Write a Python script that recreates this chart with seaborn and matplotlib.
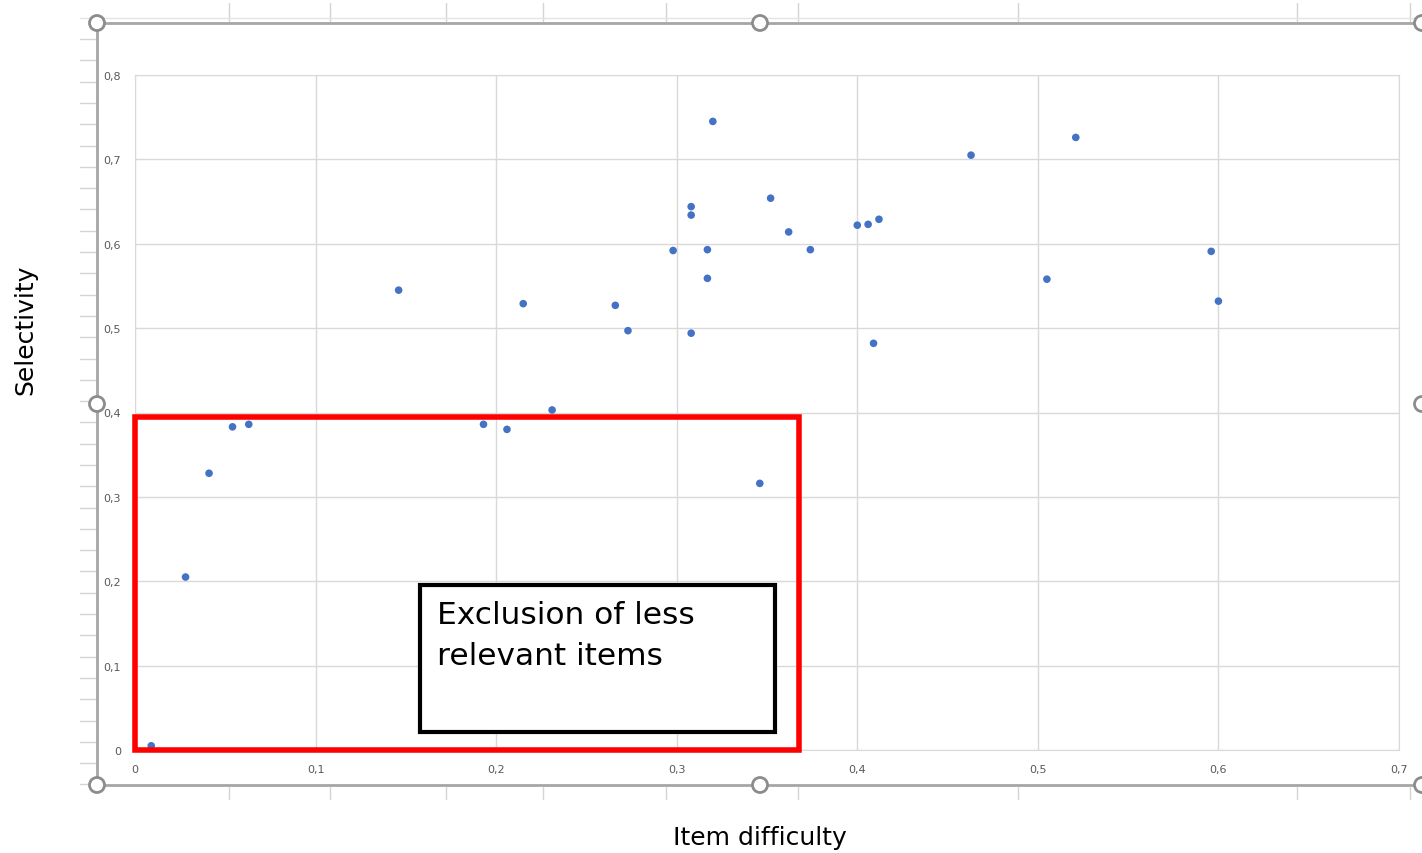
import numpy as np
import pandas as pd
import seaborn as sns
import matplotlib.pyplot as plt
from matplotlib.patches import Rectangle, Circle
from matplotlib.ticker import FuncFormatter

# Data
difficulty = [0.009, 0.028, 0.041, 0.054, 0.063, 0.146, 0.193, 0.206, 0.215, 0.231,
              0.266, 0.273, 0.298, 0.308, 0.308, 0.308, 0.317, 0.317, 0.320, 0.346,
              0.352, 0.362, 0.374, 0.400, 0.406, 0.412, 0.409, 0.463, 0.505, 0.521,
              0.596, 0.600]
selectivity = [0.005, 0.205, 0.328, 0.383, 0.386, 0.545, 0.386, 0.380, 0.529, 0.403,
               0.527, 0.497, 0.592, 0.644, 0.634, 0.494, 0.593, 0.559, 0.745, 0.316,
               0.654, 0.614, 0.593, 0.622, 0.623, 0.629, 0.482, 0.705, 0.558, 0.726,
               0.591, 0.532]
x_ticks = [0, 0.1, 0.2, 0.3, 0.4, 0.5, 0.6, 0.7]
y_ticks = [0, 0.1, 0.2, 0.3, 0.4, 0.5, 0.6, 0.7, 0.8]

# Highlighted region and annotation box (data units)
excl_region = (0.0, 0.0, 0.3677, 0.3947)
note_box = (0.158, 0.021, 0.3544, 0.1956)
note_text = "Exclusion of less\nrelevant items"

df = pd.DataFrame({"difficulty": difficulty, "selectivity": selectivity})

sns.set_style("white")
W, H = 1422, 854
fig = plt.figure(figsize=(W / 100, H / 100), dpi=100)

# ------------------------------
# Frame decoration (pixel coordinates)
# ------------------------------
deco = fig.add_axes([0, 0, 1, 1], zorder=0)
deco.set_xlim(0, W)
deco.set_ylim(H, 0)
deco.axis("off")
grey = "#d4d4d4"
for y in np.arange(40, 790, 21.3):
    deco.plot([80, 97], [y, y], color=grey, lw=1)
for x in [229, 330, 446, 543, 666, 798, 1018, 1297, 1410]:
    deco.plot([x, x], [4, 22], color=grey, lw=1)
    deco.plot([x, x], [788, 800], color=grey, lw=1)
deco.plot([80, W], [19, 19], color="#e4e4e4", lw=1)
deco.plot([97, W], [24, 24], color="#a6a6a6", lw=2)
deco.plot([97, W], [786, 786], color="#a6a6a6", lw=2)
deco.plot([97, 97], [24, 786], color="#a6a6a6", lw=2)
for cx, cy in [(97, 24), (760, 24), (1422, 24), (97, 405), (1422, 405),
               (97, 786), (760, 786), (1422, 786)]:
    deco.add_patch(Circle((cx, cy), 7.5, facecolor="white", edgecolor="#8c8c8c",
                          lw=2, zorder=5, clip_on=False))

# ------------------------------
# Scatter plot
# ------------------------------
ax = fig.add_axes([135 / W, 1 - 751 / H, (1399 - 135) / W, (751 - 76) / H], zorder=1)
sns.scatterplot(data=df, x="difficulty", y="selectivity", ax=ax,
                color="#4472C4", s=30, edgecolor="none", zorder=3)

ax.set_xlim(0, 0.7)
ax.set_ylim(0, 0.8)
ax.set_xticks(x_ticks)
ax.set_yticks(y_ticks)
fmt = FuncFormatter(lambda v, p: "0" if abs(v) < 1e-9 else f"{v:.1f}".replace(".", ","))
ax.xaxis.set_major_formatter(fmt)
ax.yaxis.set_major_formatter(fmt)
ax.tick_params(length=0, labelsize=8, colors="#595959", pad=10)
ax.grid(True, color="#d9d9d9", lw=1)
for sp in ax.spines.values():
    sp.set_color("#d9d9d9")
ax.set_xlabel("")
ax.set_ylabel("")
ax.patch.set_alpha(0)

x0, y0, x1, y1 = excl_region
ax.add_patch(Rectangle((x0, y0), x1 - x0, y1 - y0, fill=False, edgecolor="#ff0000",
                       lw=4, clip_on=False, zorder=4))
x0, y0, x1, y1 = note_box
ax.add_patch(Rectangle((x0, y0), x1 - x0, y1 - y0, facecolor="white", edgecolor="black",
                       lw=3, clip_on=False, zorder=5))
ax.text(x0 + 0.009, y1 - 0.018, note_text, fontsize=22.5, va="top", ha="left",
        color="black", zorder=6, linespacing=1.5)

fig.text(25 / W, 1 - 330 / H, "Selectivity", rotation=90, fontsize=18,
         ha="center", va="center", color="black")
fig.text(760 / W, 1 - 838 / H, "Item difficulty", fontsize=18,
         ha="center", va="center", color="black")

plt.savefig("out.png", dpi=100)
